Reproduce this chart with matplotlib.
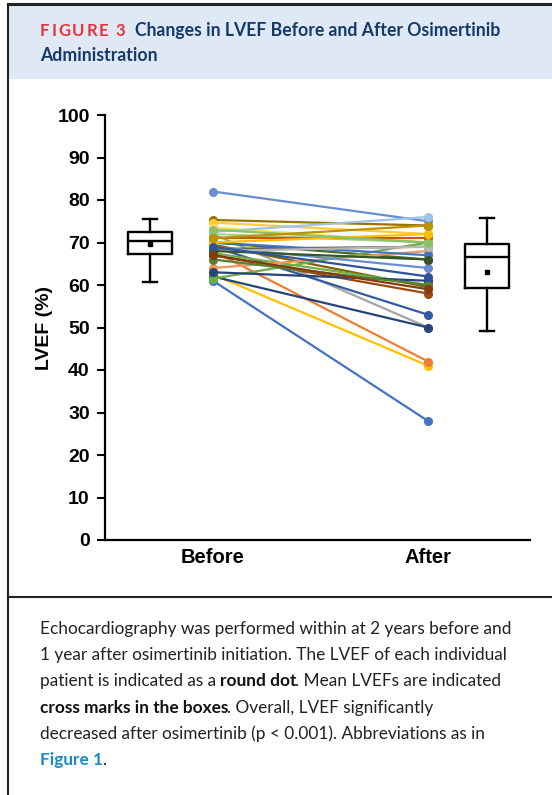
import matplotlib.pyplot as plt
from matplotlib.patches import Rectangle
from matplotlib.lines import Line2D

# LVEF (%) of each patient, before and after osimertinib
before = [82, 61, 62.5, 68, 72, 62, 69, 75.3, 74.7, 73.5, 72.5, 72, 70, 69.5, 68.5,
          67.5, 67, 64, 61.5, 63, 70, 69, 71, 68, 70, 73, 68, 66, 69, 67, 71]
after = [75, 28, 41, 42, 50, 50, 53, 74, 72, 70, 76, 70, 66, 59.5, 69,
         60, 58, 68, 70, 61, 67, 64, 71, 69, 72, 70, 66, 60, 62, 59, 74]
colors = ['#698ED0', '#4472C4', '#FFC000', '#ED7D31', '#A5A5A5', '#264478', '#335AA1',
          '#997300', '#FFCD33', '#FFD966', '#9DC3E6', '#A9D18E', '#43682B', '#7F6000',
          '#636363', '#70AD47', '#9E480E', '#F1975A', '#70AD47', '#264478', '#4472C4',
          '#698ED0', '#C55A11', '#B7B7B7', '#FFC000', '#8CC168', '#375623', '#548235',
          '#2F5597', '#843C0C', '#BF9000']
groups = ['Before', 'After']
yticks = list(range(0, 101, 10))

# box summaries
box_before = dict(whislo=60.8, q1=67.4, med=70.4, q3=72.4, whishi=75.5, mean=69.6, fliers=[])
box_after = dict(whislo=49.2, q1=59.2, med=66.5, q3=69.6, whishi=75.7, mean=63.0, fliers=[])

W, H = 552, 795
fig = plt.figure(figsize=(W / 100, H / 100), dpi=100)
renderer = fig.canvas.get_renderer()


def fx(px):
    return px / W


def fy(py):
    return 1 - py / H


def chain(x, y, parts, gap=0.0):
    # place text pieces one after another on a shared baseline (pixel coords from top-left)
    for txt, kw in parts:
        if txt == ' ':
            x += kw.get('space', 4)
            continue
        t = fig.text(fx(x), fy(y), txt, va='baseline', ha='left',
                     **{k: v for k, v in kw.items() if k != 'space'})
        x = t.get_window_extent(renderer).x1 + gap


# frame + header band
fig.add_artist(Rectangle((fx(8), fy(79)), 1, fy(5) - fy(79), transform=fig.transFigure,
                         facecolor='#dfe9f5', edgecolor='none'))
fig.add_artist(Line2D([fx(8), 1], [fy(4), fy(4)], color='#222222', lw=2.2))
fig.add_artist(Line2D([fx(8), fx(8)], [0, fy(4)], color='#222222', lw=1.5))
fig.add_artist(Line2D([fx(8), 1], [fy(597), fy(597)], color='#222222', lw=1.5))

head = dict(fontsize=12.7, fontweight='bold', family='Lato', color='#163a68')
red = dict(fontsize=12, fontweight='bold', family='Lato', color='#e5323b', space=5)
chain(40, 36, [(ch, red) for ch in 'FIGURE 3'], gap=1.8)
fig.text(fx(135), fy(36), 'Changes in LVEF Before and After Osimertinib', va='baseline', **head)
fig.text(fx(40), fy(61), 'Administration', va='baseline', **head)

# chart
ax = fig.add_axes([fx(105), fy(540), (530 - 105) / W, 425 / H])
for b, a, c in zip(before, after, colors):
    ax.plot([1, 2], [b, a], color=c, lw=1.6, marker='o', ms=5.5)

bw = dict(color='black', linewidth=1.7)
ax.bxp([box_before, box_after], positions=[0.707, 2.274], widths=0.205, capwidths=0.065,
       showmeans=True, showfliers=False, manage_ticks=False,
       boxprops=bw, whiskerprops=bw, capprops=bw, medianprops=bw,
       meanprops=dict(marker='s', markersize=2.8, markerfacecolor='black', markeredgecolor='black'))

ax.set_xlim(0.498, 2.474)
ax.set_ylim(0, 100)
ax.set_yticks(yticks)
ax.set_yticklabels([str(v) for v in yticks], fontsize=14, fontweight='bold', family='Liberation Sans')
ax.set_xticks([1, 2])
ax.set_xticklabels(groups, fontsize=14.5, fontweight='bold', family='Liberation Sans')
ax.tick_params(axis='y', direction='out', length=6, width=1.5, pad=5)
ax.tick_params(axis='x', length=0, pad=6)
ax.set_ylabel('LVEF (%)', fontsize=14, fontweight='bold', family='Liberation Sans')
ax.yaxis.set_label_coords(-0.122, 0.5)
for s in ['top', 'right']:
    ax.spines[s].set_visible(False)
for s in ['left', 'bottom']:
    ax.spines[s].set_linewidth(1.6)

# caption with mixed styles
n = dict(fontsize=12.4, family='Lato', color='#222222', fontweight='normal')
b = dict(fontsize=12.4, family='Lato', color='#111111', fontweight='bold')
lk = dict(fontsize=12.4, family='Lato', color='#1a8ac8', fontweight='bold')
caption = [
    [('Echocardiography was performed within at 2 years before and', n)],
    [('1 year after osimertinib initiation. The LVEF of each individual', n)],
    [('patient is indicated as a ', n), ('round dot', b), ('. Mean LVEFs are indicated', n)],
    [('cross marks in the boxes', b), ('. Overall, LVEF significantly', n)],
    [('decreased after osimertinib (p < 0.001). Abbreviations as in', n)],
    [('Figure 1', lk), ('.', n)],
]
for i, line in enumerate(caption):
    chain(40, 634 + i * 26.2, line, gap=-1)

fig.savefig('out.png', dpi=100)
